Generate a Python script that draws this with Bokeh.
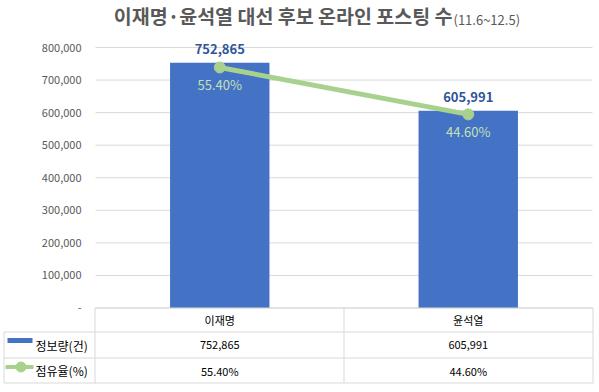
from bokeh.plotting import figure
from bokeh.models import Range1d, ColumnDataSource
from bokeh.core.properties import value
from bokeh.embed import file_html
from bokeh.resources import INLINE

# ---------------- data ----------------
candidates = ["이재명", "윤석열"]
posts = [752865, 605991]
share = [55.40, 44.60]
post_labels = ["752,865", "605,991"]
share_labels = ["55.40%", "44.60%"]
y_ticks = [0, 100000, 200000, 300000, 400000, 500000, 600000, 700000, 800000]
y_tick_labels = ["-", "100,000", "200,000", "300,000", "400,000", "500,000",
                 "600,000", "700,000", "800,000"]
y_max = 800000
pct_max = 60
series_names = ["정보량(건)", "점유율(%)"]
title_main = "이재명·윤석열 대선 후보 온라인 포스팅 수"
title_sub = "(11.6~12.5)"

# ---------------- layout / style ----------------
FONT = value("Noto Sans CJK KR")
BAR = "#4472C4"
LINE = "#A9D18E"
GRID = "#D9D9D9"
GRAYTXT = "#595959"
W, H = 599, 392
PL, PR, PT, PB = 95.0, 592.0, 47.0, 307.5      # plot area in canvas px

ncat = len(candidates)
cat_w = (PR - PL) / ncat                       # px per category
xk = 1.0 / cat_w
yk = y_max / (PB - PT)
pk = pct_max / (PB - PT)

p = figure(width=W, height=H,
           x_range=Range1d(-PL * xk, ncat + (W - PR) * xk),
           y_range=Range1d(-(H - PB) * yk, y_max + PT * yk),
           output_backend="svg", toolbar_location=None, min_border=0)
p.extra_y_ranges = {"pct": Range1d(-(H - PB) * pk, pct_max + PT * pk),
                    "py": Range1d(H, 0)}
p.extra_x_ranges = {"px": Range1d(0, W)}
p.axis.visible = False
p.grid.visible = False
p.outline_line_color = None
p.background_fill_color = "white"
p.border_fill_color = "white"

xs = [i + 0.5 for i in range(ncat)]
src = ColumnDataSource(dict(x=xs, cat=candidates, posts=posts, share=share,
                            post_labels=post_labels, share_labels=share_labels))

# gridlines and y tick labels
p.segment(x0=0, x1=ncat, y0=y_ticks, y1=y_ticks, line_color=GRID, line_width=1)
p.text(x=0, y=y_ticks, text=y_tick_labels, x_offset=-14,
       text_align="right", text_baseline="middle",
       text_font=FONT, text_font_size="11px", text_color=GRAYTXT)

# bars
p.vbar(x="x", top="posts", bottom=0, width=0.4, source=src,
       fill_color=BAR, line_color=None)

# line on secondary scale
p.line(x="x", y="share", source=src, y_range_name="pct", line_color=LINE, line_width=5)
p.scatter(x="x", y="share", source=src, y_range_name="pct", size=11,
          fill_color=LINE, line_color=LINE)

# data labels
p.text(x="x", y="posts", text="post_labels", source=src, y_offset=-14,
       text_align="center", text_baseline="middle",
       text_font=FONT, text_font_size="13px", text_font_style="bold",
       text_color="#2F5597")
p.text(x="x", y="share", text="share_labels", source=src, y_range_name="pct",
       y_offset=17, text_align="center", text_baseline="middle",
       text_font=FONT, text_font_size="13px", text_color="#C5E0B4")

# title
p.text(x=[452], y=[14.5], text=[title_main], x_range_name="px", y_range_name="py",
       text_align="right", text_baseline="middle",
       text_font=FONT, text_font_size="19.5px", text_font_style="bold",
       text_color=GRAYTXT)
p.text(x=[453], y=[18.5], text=[title_sub], x_range_name="px", y_range_name="py",
       text_align="left", text_baseline="middle",
       text_font=FONT, text_font_size="13px", text_color=GRAYTXT)

# data table borders
T0, T1, T2, T3 = 307.5, 331.5, 357.5, 382.5
L0, L1, LM, R = 3.5, 94.5, 343.5, 592.5
hx0 = [L1, L0, L0, L0]
hx1 = [R, R, R, R]
hy = [T0, T1, T2, T3]
vx = [L0, L1, LM, R]
vy0 = [T1, T0, T0, T0]
vy1 = [T3, T3, T3, T3]
p.segment(x0=hx0, x1=hx1, y0=hy, y1=hy, x_range_name="px", y_range_name="py",
          line_color=GRID, line_width=1)
p.segment(x0=vx, x1=vx, y0=vy0, y1=vy1, x_range_name="px", y_range_name="py",
          line_color=GRID, line_width=1)

# legend keys
p.quad(left=[7], right=[32], top=[337.5], bottom=[342.5],
       x_range_name="px", y_range_name="py", fill_color=BAR, line_color=None)
p.segment(x0=[5], x1=[33], y0=[366.5], y1=[366.5],
          x_range_name="px", y_range_name="py", line_color=LINE, line_width=4)
p.scatter(x=[20.5], y=[366.5], x_range_name="px", y_range_name="py",
          size=10, fill_color=LINE, line_color=LINE)

# table texts
rows_y = [(T0 + T1) / 2, (T1 + T2) / 2, (T2 + T3) / 2]
for row_y, labels in zip(rows_y, [candidates, post_labels, share_labels]):
    p.text(x=xs, y=[row_y] * ncat, text=labels, y_range_name="py",
           text_align="center", text_baseline="middle",
           text_font=FONT, text_font_size="11px", text_color="#000000")

p.text(x=[35, 35], y=rows_y[1:], text=series_names,
       x_range_name="px", y_range_name="py",
       text_align="left", text_baseline="middle",
       text_font=FONT, text_font_size="12px", text_color="#000000")

open("out.html", "w").write(file_html(p, INLINE))
